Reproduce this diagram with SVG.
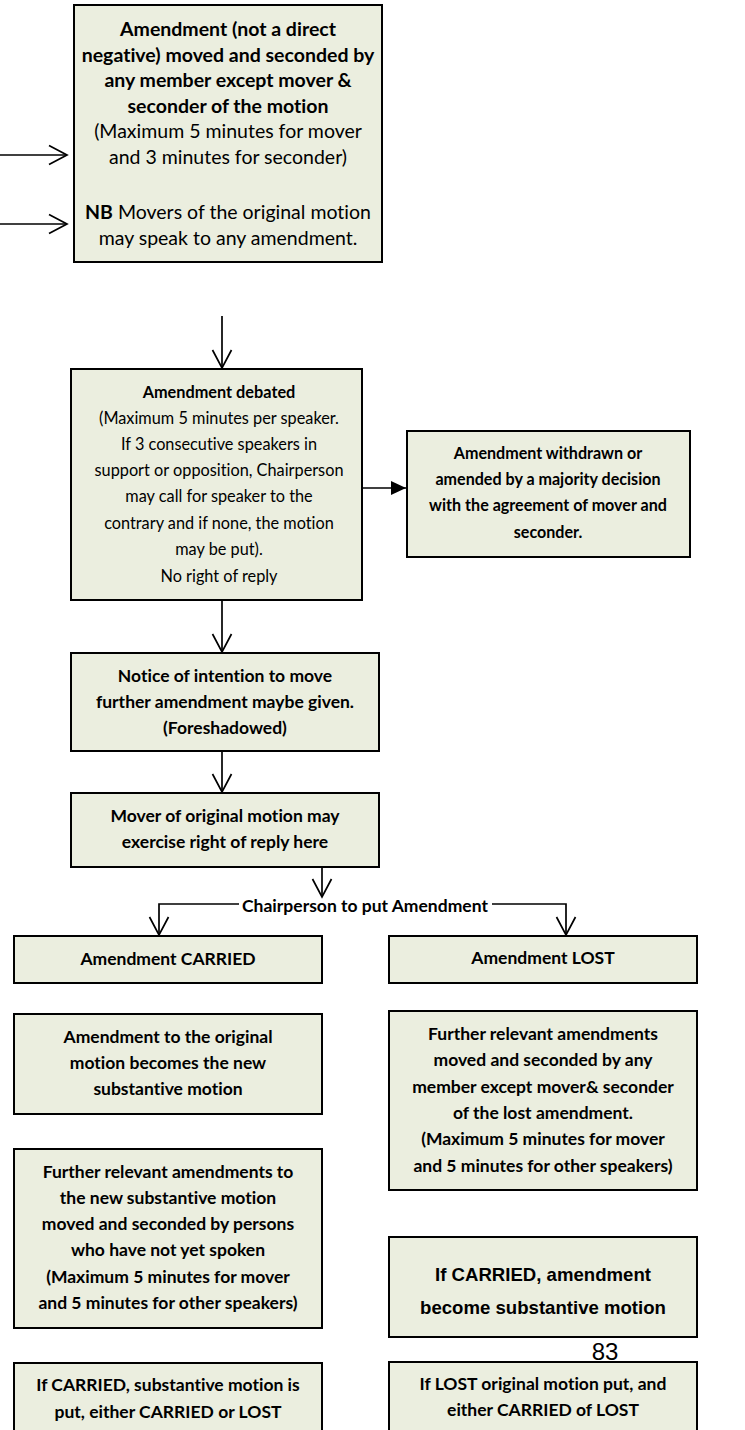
<svg xmlns="http://www.w3.org/2000/svg" width="745" height="1430" viewBox="0 0 745 1430">
<style>
.box{fill:#EBEEDF;stroke:#000;stroke-width:2}
.t{font-family:Lato,"Liberation Sans",sans-serif;text-anchor:middle;fill:#000;font-variant-ligatures:none;font-feature-settings:"liga" 0}
.b{font-weight:bold}
.s1{font-size:19.5px}
.s2{font-size:16.3px}
.s3{font-size:16.1px}
.s4{font-size:17.5px}
.a{font-family:"Liberation Sans",Arial,sans-serif;font-size:18.6px;font-weight:bold;text-anchor:middle}
.c{fill:none;stroke:#000;stroke-width:1.7}
</style>
<defs>
<marker id="v" viewBox="-20 -11 22 22" refX="0" refY="0" markerWidth="22" markerHeight="22" markerUnits="userSpaceOnUse" orient="auto">
<path d="M-18,-9.5 L0,0 L-18,9.5" fill="none" stroke="#000" stroke-width="1.7"/>
</marker>
<marker id="f" viewBox="-16 -9 17 18" refX="0" refY="0" markerWidth="17" markerHeight="18" markerUnits="userSpaceOnUse" orient="auto">
<path d="M-15,-7 L0,0 L-15,7 Z" fill="#000"/>
</marker>
</defs>
<g id="connectors">
<line class="c" x1="0" y1="155" x2="67" y2="155" marker-end="url(#v)"/>
<line class="c" x1="0" y1="224" x2="67" y2="224" marker-end="url(#v)"/>
<line class="c" x1="222" y1="316" x2="222" y2="368" marker-end="url(#v)"/>
<line class="c" x1="362" y1="488" x2="406" y2="488" marker-end="url(#f)"/>
<line class="c" x1="222" y1="601" x2="222" y2="652" marker-end="url(#v)"/>
<line class="c" x1="222" y1="752" x2="222" y2="792" marker-end="url(#v)"/>
<line class="c" x1="322" y1="868" x2="322" y2="897" marker-end="url(#v)"/>
<polyline class="c" points="239,904 159,904 159,935" marker-end="url(#v)"/>
<polyline class="c" points="492,904 566,904 566,935" marker-end="url(#v)"/>
<text class="t b s4" x="365" y="912">Chairperson to put Amendment</text>
</g>
<g id="n1">
<rect class="box" x="74" y="5" width="308" height="257"/>
<text class="t b s1" x="228" y="36">Amendment (not a direct</text>
<text class="t b s1" x="228" y="62">negative) moved and seconded by</text>
<text class="t b s1" x="228" y="87">any member except mover &amp;</text>
<text class="t b s1" x="228" y="113">seconder of the motion</text>
<text class="t s1" x="228" y="138">(Maximum 5 minutes for mover</text>
<text class="t s1" x="228" y="164">and 3 minutes for seconder)</text>
<text class="t s1" x="228" y="219"><tspan font-weight="bold">NB</tspan> Movers of the original motion</text>
<text class="t s1" x="228" y="245">may speak to any amendment.</text>
</g>
<g id="n2">
<rect class="box" x="71" y="369" width="291" height="231"/>
<text class="t b s2" x="219" y="398">Amendment debated</text>
<text class="t s2" x="219" y="424">(Maximum 5 minutes per speaker.</text>
<text class="t s2" x="219" y="450">If 3 consecutive speakers in</text>
<text class="t s2" x="219" y="476">support or opposition, Chairperson</text>
<text class="t s2" x="219" y="502">may call for speaker to the</text>
<text class="t s2" x="219" y="529">contrary and if none, the motion</text>
<text class="t s2" x="219" y="555">may be put).</text>
<text class="t s2" x="219" y="582">No right of reply</text>
</g>
<g id="n3">
<rect class="box" x="407" y="431" width="283" height="126"/>
<text class="t b s3" x="548" y="459">Amendment withdrawn or</text>
<text class="t b s3" x="548" y="485">amended by a majority decision</text>
<text class="t b s3" x="548" y="511">with the agreement of mover and</text>
<text class="t b s3" x="548" y="538">seconder.</text>
</g>
<g id="n4">
<rect class="box" x="71" y="653" width="308" height="98"/>
<text class="t b s4" x="225" y="682">Notice of intention to move</text>
<text class="t b s4" x="225" y="708">further amendment maybe given.</text>
<text class="t b s4" x="225" y="734">(Foreshadowed)</text>
</g>
<g id="n5">
<rect class="box" x="71" y="793" width="308" height="74"/>
<text class="t b s4" x="225" y="822">Mover of original motion may</text>
<text class="t b s4" x="225" y="848">exercise right of reply here</text>
</g>
<g id="n6">
<rect class="box" x="14" y="936" width="308" height="47"/>
<text class="t b s4" x="168" y="965">Amendment CARRIED</text>
</g>
<g id="n7">
<rect class="box" x="389" y="936" width="308" height="47"/>
<text class="t b s4" x="543" y="964">Amendment LOST</text>
</g>
<g id="n8">
<rect class="box" x="14" y="1014" width="308" height="100"/>
<text class="t b s4" x="168" y="1043">Amendment to the original</text>
<text class="t b s4" x="168" y="1069">motion becomes the new</text>
<text class="t b s4" x="168" y="1095">substantive motion</text>
</g>
<g id="n9">
<rect class="box" x="389" y="1011" width="308" height="179"/>
<text class="t b s4" x="543" y="1040">Further relevant amendments</text>
<text class="t b s4" x="543" y="1066">moved and seconded by any</text>
<text class="t b s4" x="543" y="1093">member except mover&amp; seconder</text>
<text class="t b s4" x="543" y="1119">of the lost amendment.</text>
<text class="t b s4" x="543" y="1145">(Maximum 5 minutes for mover</text>
<text class="t b s4" x="543" y="1172">and 5 minutes for other speakers)</text>
</g>
<g id="n10">
<rect class="box" x="14" y="1149" width="308" height="179"/>
<text class="t b s4" x="168" y="1178">Further relevant amendments to</text>
<text class="t b s4" x="168" y="1204">the new substantive motion</text>
<text class="t b s4" x="168" y="1230">moved and seconded by persons</text>
<text class="t b s4" x="168" y="1256">who have not yet spoken</text>
<text class="t b s4" x="168" y="1283">(Maximum 5 minutes for mover</text>
<text class="t b s4" x="168" y="1309">and 5 minutes for other speakers)</text>
</g>
<g id="n11">
<rect class="box" x="389" y="1237" width="308" height="100"/>
<text class="a" x="543" y="1281">If CARRIED, amendment</text>
<text class="a" x="543" y="1314">become substantive motion</text>
</g>
<text id="page" x="605" y="1360" font-family="Liberation Sans,Arial,sans-serif" font-size="24" text-anchor="middle">83</text>
<g id="n12">
<rect class="box" x="14" y="1363" width="308" height="80"/>
<text class="t b s4" x="168" y="1391">If CARRIED, substantive motion is</text>
<text class="t b s4" x="168" y="1418">put, either CARRIED or LOST</text>
</g>
<g id="n13">
<rect class="box" x="389" y="1362" width="308" height="80"/>
<text class="t b s4" x="543" y="1390">If LOST original motion put, and</text>
<text class="t b s4" x="543" y="1416">either CARRIED of LOST</text>
</g>
</svg>
